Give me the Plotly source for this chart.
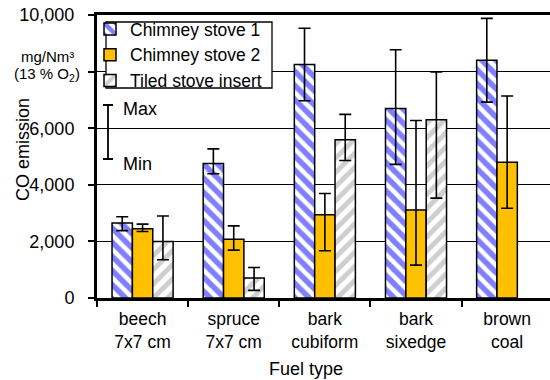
import plotly.graph_objects as go

categories = ["beech<br>7x7 cm", "spruce<br>7x7 cm", "bark<br>cubiform", "bark<br>sixedge", "brown<br>coal"]

cs1_values = [2650, 4750, 8250, 6700, 8400]
cs1_max = [2870, 5270, 9530, 8770, 9880]
cs1_min = [2380, 4390, 6970, 4720, 6920]

cs2_values = [2450, 2080, 2940, 3110, 4800]
cs2_max = [2610, 2550, 3690, 6270, 7140]
cs2_min = [2350, 1690, 1670, 1160, 3170]

tiled_values = [2000, 710, 5590, 6300, None]
tiled_max = [2900, 1080, 6490, 7990, None]
tiled_min = [1350, 270, 4860, 3530, None]

y_ticks = [0, 2000, 4000, 6000, 8000, 10000]
y_ticklabels = ["0", "2,000", "4,000", "6,000", "", "10,000"]

FONT = "Liberation Sans, Arial, sans-serif"
FS = 18

W, H = 550, 380
ML, MT, MB = 97, 15, 82
PW = W - ML
PH = H - MT - MB
PAD = "\u00a0\u00a0"


def px_x(px):
    return (px - ML) / PW


def px_y(py):
    return (H - MB - py) / PH


def err(vals, mx, mn):
    plus = [None if v is None else m - v for v, m in zip(vals, mx)]
    minus = [None if v is None else v - m for v, m in zip(vals, mn)]
    return dict(type="data", symmetric=False, array=plus, arrayminus=minus,
                color="black", thickness=1.6, width=6)


fig = go.Figure()
fig.add_trace(go.Bar(
    name="Chimney stove 1", x=categories, y=cs1_values,
    marker=dict(color="white", line=dict(color="black", width=1.5),
                pattern=dict(shape="\\", fgcolor="#0000ff", bgcolor="white",
                             size=10, solidity=0.55)),
    error_y=err(cs1_values, cs1_max, cs1_min)))
fig.add_trace(go.Bar(
    name="Chimney stove 2", x=categories, y=cs2_values,
    marker=dict(color="#FFC000", line=dict(color="black", width=1.5)),
    error_y=err(cs2_values, cs2_max, cs2_min)))
fig.add_trace(go.Bar(
    name="Tiled stove insert", x=categories, y=tiled_values,
    marker=dict(color="white", line=dict(color="black", width=1.5),
                pattern=dict(shape="/", fgcolor="#a0a0a0", bgcolor="white",
                             size=10, solidity=0.5)),
    error_y=err(tiled_values, tiled_max, tiled_min)))

fig.update_layout(
    width=W, height=H,
    margin=dict(l=ML, r=0, t=MT, b=MB),
    paper_bgcolor="white", plot_bgcolor="white",
    font=dict(family=FONT, size=FS, color="black"),
    barmode="group", bargap=0.33, bargroupgap=0,
    legend=dict(x=px_x(90), y=px_y(11), xanchor="left", yanchor="top",
                bgcolor="rgba(0,0,0,0)", borderwidth=0,
                font=dict(size=17.5), tracegroupgap=0, itemwidth=30),
    xaxis=dict(range=[-0.5, 4.47], tickson="boundaries", ticks="outside",
               ticklen=6, tickwidth=2, tickcolor="black", ticklabelstandoff=3,
               tickfont=dict(size=17.5),
               showline=True, linewidth=3, linecolor="black", mirror=True,
               showgrid=False, automargin=False),
    yaxis=dict(range=[0, 10000], tickvals=y_ticks,
               ticktext=[t + PAD if t else t for t in y_ticklabels],
               ticks="outside", ticklen=6, tickwidth=2, tickcolor="black",
               showline=True, linewidth=3, linecolor="black",
               showgrid=True, gridcolor="#000000", gridwidth=1.2,
               zeroline=False, automargin=False),
)

# legend frame
fig.add_shape(type="rect", xref="paper", yref="paper",
              x0=px_x(106), x1=px_x(272), y0=px_y(88), y1=px_y(22),
              fillcolor="white", line=dict(color="black", width=1.3))

# axis titles
fig.add_annotation(xref="paper", yref="paper", x=px_x(306), y=px_y(369),
                   text="Fuel type", showarrow=False, xanchor="center",
                   yanchor="middle", font=dict(size=FS))
fig.add_annotation(xref="paper", yref="paper", x=px_x(23), y=px_y(150),
                   text="CO emission", textangle=-90, showarrow=False,
                   xanchor="center", yanchor="middle", font=dict(size=FS))

# Max/Min key
kx, ky0, ky1, c = px_x(108), px_y(159), px_y(105), 5 / PW
fig.add_shape(type="path", xref="paper", yref="paper",
              path=(f"M{kx - c},{ky1} L{kx + c},{ky1} M{kx},{ky1} L{kx},{ky0} "
                    f"M{kx - c},{ky0} L{kx + c},{ky0}"),
              line=dict(color="black", width=1.8))
fig.add_annotation(xref="paper", yref="paper", x=px_x(121), y=px_y(109), text="Max",
                   showarrow=False, xanchor="left", yanchor="middle", font=dict(size=FS))
fig.add_annotation(xref="paper", yref="paper", x=px_x(121), y=px_y(164), text="Min",
                   showarrow=False, xanchor="left", yanchor="middle", font=dict(size=FS))

# unit annotation
fig.add_annotation(xref="paper", yref="paper", x=px_x(47), y=px_y(56),
                   text="mg/Nm³", showarrow=False, xanchor="center", yanchor="middle",
                   font=dict(size=15))
fig.add_annotation(xref="paper", yref="paper", x=px_x(47), y=px_y(75),
                   text="(13 % O<sub>2</sub>)", showarrow=False, xanchor="center",
                   yanchor="middle", font=dict(size=15))

fig.write_html("out.html", post_script="document.body.style.margin='0';",
               config={"displayModeBar": False})
